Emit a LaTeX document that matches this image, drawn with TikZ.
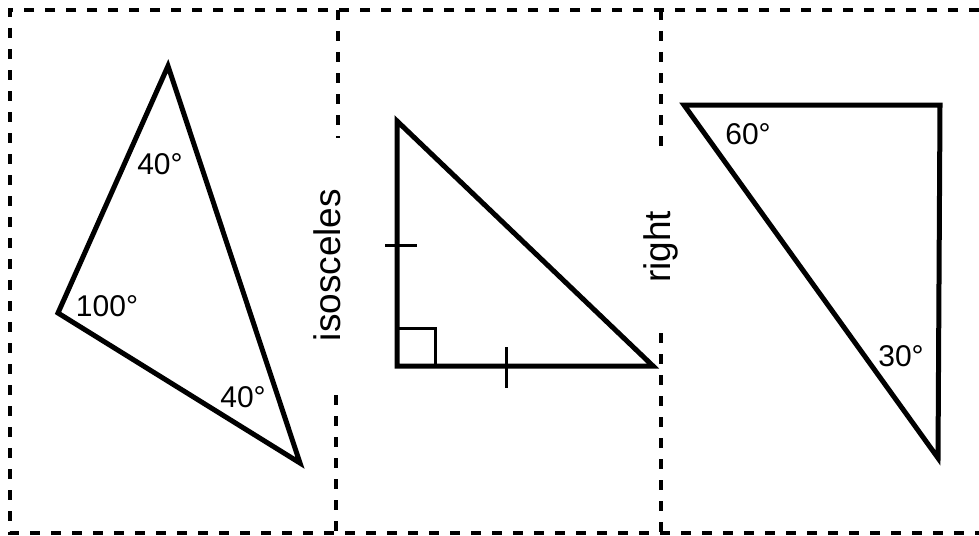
\documentclass[tikz,border=0pt]{standalone}
\usepackage{fontspec}
\setmainfont{Liberation Sans}
\usepackage{tikz}
\usetikzlibrary{positioning,calc}

\begin{document}
\begin{tikzpicture}[
    x=1pt, y=-1pt,
    cutline/.style={line width=3.2pt, dash pattern=on 10pt off 11pt},
    tri/.style={line width=5pt, line join=miter},
    tickmark/.style={line width=3pt},
    anglabel/.style={font=\fontsize{30}{32}\selectfont, inner sep=0pt},
    sidelabel/.style={font=\fontsize{37}{40}\selectfont, inner sep=0pt, rotate=90}
  ]
  \useasboundingbox (0,0) rectangle (979,535);

  % Cut lines
  \draw[cutline] (979,10) -- (10,10) -- (10,533) -- (979,533);
  \draw[cutline] (338,10) -- (338,138);
  \draw[cutline] (336,395) -- (336,533);
  \draw[cutline] (661,10) -- (661,155);
  \draw[cutline] (661,333) -- (661,533);

  % Left: obtuse triangle
  \coordinate (ta) at (168,66);
  \coordinate (tb) at (58,313);
  \coordinate (tc) at (300,463);
  \draw[tri] (ta) -- (tb) -- (tc) -- cycle;
  \node[anglabel] (la) at (160,164) {40°};
  \node[anglabel] (lb) at (107,306) {100°};
  \node[anglabel] (lc) at (243,397) {40°};

  % Middle: isosceles right triangle
  \node[sidelabel] (iso) at (327,265) {isosceles};
  \coordinate (ra) at (397,121);
  \coordinate (rb) at (397,366);
  \coordinate (rc) at (653,366);
  \draw[tri] (ra) -- (rb) -- (rc) -- cycle;
  \draw[tickmark] ($(rb)+(0,-38)$) -- ++(38,0) -- ++(0,38);
  \draw[tickmark] (385,245) -- (417,245);
  \draw[tickmark] (506,347) -- (506,388);

  % Right: right triangle
  \node[sidelabel] (rt) at (661,247) {right};
  \coordinate (sa) at (684,105);
  \coordinate (sb) at (940,105);
  \coordinate (sc) at (938,458);
  \draw[tri] (sa) -- (sb) -- (sc) -- cycle;
  \node[anglabel] (ma) at (748,134) {60°};
  \node[anglabel] (mb) at (901,356) {30°};
\end{tikzpicture}
\end{document}
